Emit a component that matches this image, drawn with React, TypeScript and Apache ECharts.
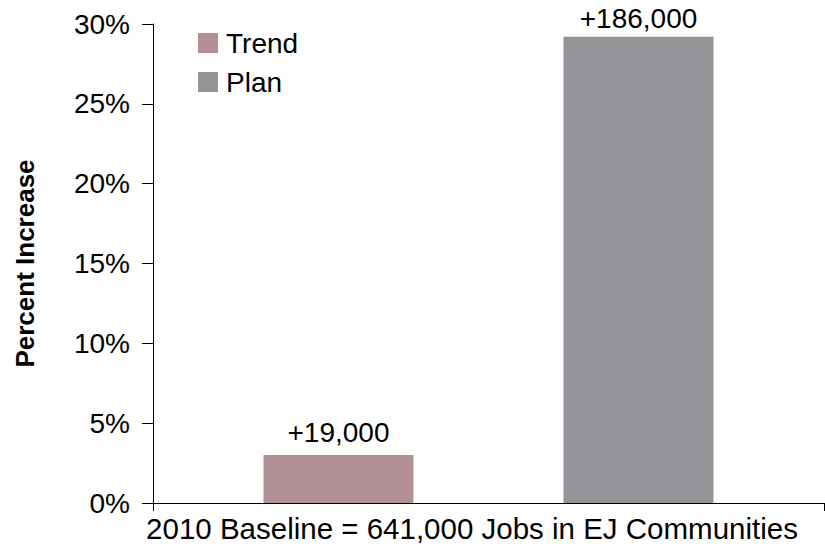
import React, { useEffect, useRef } from "react";
import * as echarts from "echarts";

const categories = ["2010 Baseline = 641,000 Jobs in EJ Communities"];
const seriesNames = ["Trend", "Plan"];
const trendValues = [3.0];
const planValues = [29.2];
const jobLabels = ["+19,000", "+186,000"];
const yTicks = { min: 0, max: 30, interval: 5 };
const colors = ["#B39096", "#939598"];
const labelDistances = [9, 4];

const FONT = "'Liberation Sans', Arial, sans-serif";

export default function App() {
  const ref = useRef<HTMLDivElement>(null);
  useEffect(() => {
    if (!ref.current) return;
    const chart = echarts.init(ref.current, undefined, { renderer: "svg" });
    const values = [trendValues, planValues];
    chart.setOption({
      animation: false,
      backgroundColor: "#ffffff",
      textStyle: { fontFamily: FONT, color: "#000" },
      grid: { left: 153, right: 1, top: 24, bottom: 47 },
      legend: {
        data: seriesNames,
        orient: "vertical",
        left: 193,
        top: 24,
        icon: "rect",
        itemWidth: 20,
        itemHeight: 20,
        itemGap: 11,
        textStyle: { fontSize: 28, color: "#000", fontFamily: FONT, padding: [0, 0, 0, 3] },
      },
      xAxis: {
        type: "category",
        data: categories,
        axisLine: { lineStyle: { color: "#000", width: 1 } },
        axisTick: { show: true, length: 8, lineStyle: { color: "#000" } },
        axisLabel: {
          fontSize: 29.5,
          color: "#000",
          fontFamily: FONT,
          margin: 10,
          padding: [0, 33, 0, 0],
        },
      },
      yAxis: {
        type: "value",
        min: yTicks.min,
        max: yTicks.max,
        interval: yTicks.interval,
        name: "Percent Increase",
        nameLocation: "middle",
        nameGap: 115,
        nameTextStyle: { fontSize: 26, fontWeight: "bold", color: "#000", fontFamily: FONT },
        splitLine: { show: false },
        axisLine: { show: true, lineStyle: { color: "#000", width: 1 } },
        axisTick: { show: true, length: 11, lineStyle: { color: "#000" } },
        axisLabel: { fontSize: 28, color: "#000", fontFamily: FONT, margin: 23, formatter: "{value}%" },
      },
      series: seriesNames.map((name, i) => ({
        name,
        type: "bar",
        data: values[i],
        barWidth: 150,
        barGap: "100%",
        itemStyle: { color: colors[i] },
        label: {
          show: true,
          position: "top",
          distance: labelDistances[i],
          fontSize: 28,
          lineHeight: 28,
          color: "#000",
          fontFamily: FONT,
          formatter: () => jobLabels[i],
        },
      })),
    });
    return () => chart.dispose();
  }, []);
  return (
    <div
      ref={ref}
      style={{ position: "fixed", left: 0, top: 0, width: 825, height: 550 }}
    />
  );
}
